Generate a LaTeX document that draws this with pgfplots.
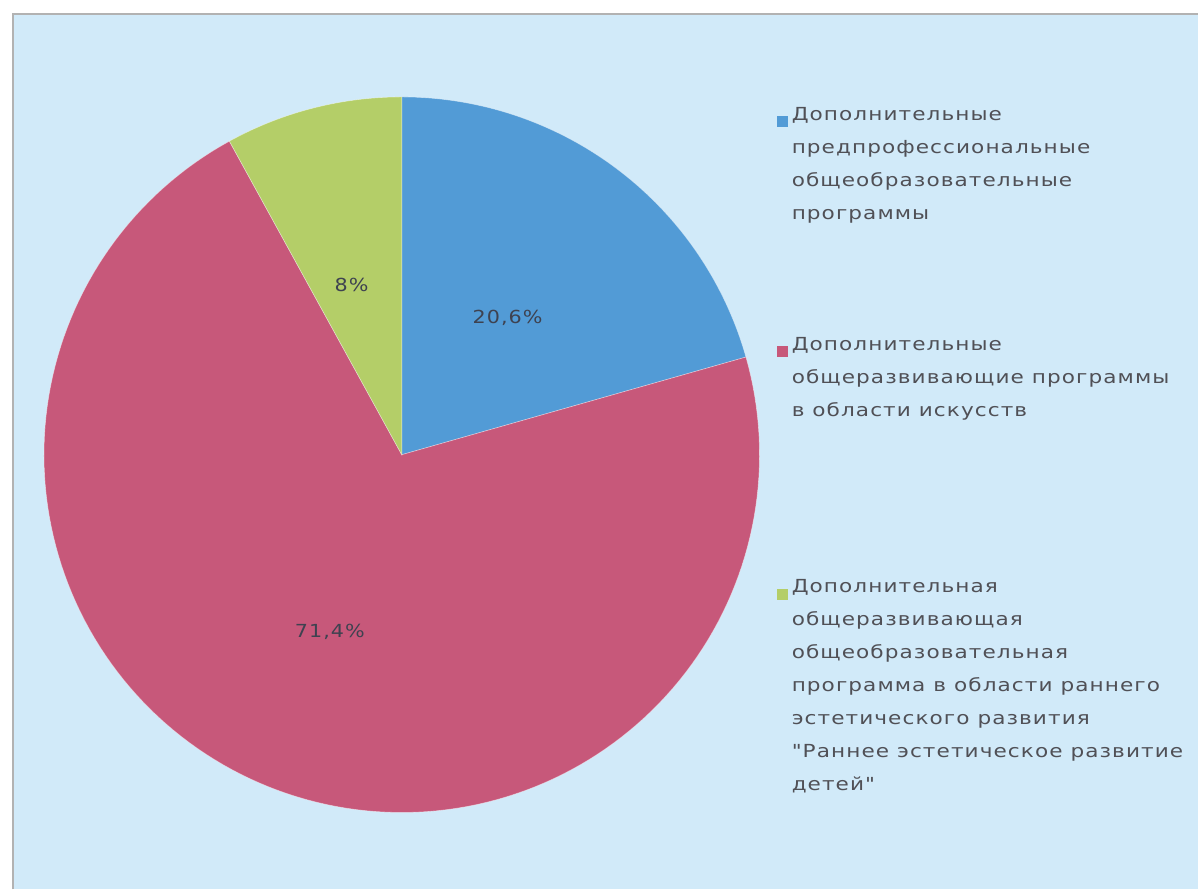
\documentclass[border=0pt]{standalone}
\usepackage{fontspec}
\usepackage{pgfplots}
\pgfplotsset{compat=1.18}
\newfontfamily\legfont[LetterSpace=5]{DejaVu Sans}

\definecolor{pieblue}{RGB}{82,155,214}
\definecolor{piered}{RGB}{199,88,122}
\definecolor{piegreen}{RGB}{180,206,104}
\definecolor{bgblue}{RGB}{209,234,249}
\definecolor{txtgray}{RGB}{80,80,86}
\definecolor{lblgray}{RGB}{62,66,80}

\begin{document}
\begin{tikzpicture}[x=1pt,y=1pt]
% page and chart area
\fill[white] (0,0) rectangle (1199,890);
\fill[bgblue] (13,0) rectangle (1199,876);
\draw[black!30, line width=1.5pt] (13,0) -- (13,876) -- (1199,876);

\begin{axis}[
  at={(402pt,435pt)}, anchor=center,
  width=716pt, height=716pt, scale only axis,
  hide axis, clip=false,
  xmin=-1, xmax=1, ymin=-1, ymax=1,
  every axis plot/.append style={draw=white, draw opacity=0.45, line width=0.6pt, samples=160, variable=\t},
]
% shares in percent, clockwise from 12 o'clock: 20.6, 71.4, 8
\addplot[fill=pieblue, domain=90-3.6*20.6:90] ({cos(t)},{sin(t)}) -- (0,0) -- cycle;
\addplot[fill=piered, domain=90-3.6*92:90-3.6*20.6] ({cos(t)},{sin(t)}) -- (0,0) -- cycle;
\addplot[fill=piegreen, domain=90-3.6*100:90-3.6*92] ({cos(t)},{sin(t)}) -- (0,0) -- cycle;

\begin{scope}[every node/.style={text=lblgray, xscale=1.15, transform shape, font={\legfont\fontsize{18}{28}\selectfont}}]
\node at (0.296,0.383) {20,6\%};
\node at (-0.140,0.475) {8\%};
\node at (-0.201,-0.494) {71,4\%};
\end{scope}
\end{axis}

% legend
\fill[pieblue] (777,763) rectangle (788,774);
\fill[piered] (777,533) rectangle (788,544);
\fill[piegreen] (777,290) rectangle (788,301);
\begin{scope}[every node/.style={anchor=north west, align=left, inner sep=0pt, text=txtgray,
    xscale=1.2, transform shape, font={\legfont\fontsize{18}{33}\selectfont}}]
\node at (792,783) {Дополнительные\\предпрофессиональные\\общеобразовательные\\программы};
\node at (792,553) {Дополнительные\\общеразвивающие программы\\в области искусств};
\node at (792,310) {Дополнительная\\общеразвивающая\\общеобразовательная\\программа в области раннего\\эстетического развития\\"Раннее эстетическое развитие\\детей"};
\end{scope}
\end{tikzpicture}
\end{document}
